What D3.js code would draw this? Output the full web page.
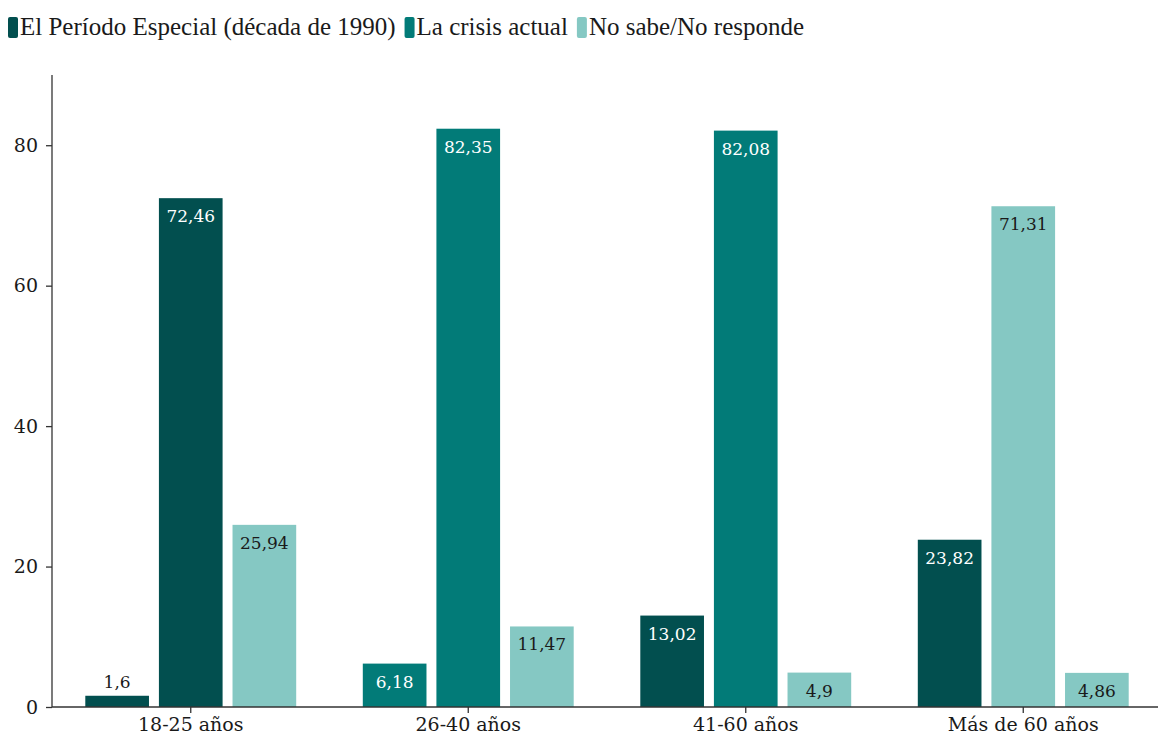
<!DOCTYPE html>
<html>
    <head>
        <meta charset="UTF-8">
        <title>Período Especial vs crisis actual</title>
        <script src="https://d3js.org/d3.v7.min.js"></script>
        <style>
            body { margin:0; background:#fff; }
        </style>
    </head>
    <body>
        <script>
            var groups = ["18-25 años","26-40 años","41-60 años","Más de 60 años"];
            var seriesNames = ["El Período Especial (década de 1990)","La crisis actual","No sabe/No responde"];
            var periodo = [1.6, 6.18, 13.02, 23.82];
            var crisis = [72.46, 82.35, 82.08, 71.31];
            var nosabe = [25.94, 11.47, 4.9, 4.86];
            var yTicks = [0,20,40,60,80];
            // colour index used by each bar in the original (it is not strictly per series)
            var barColorIdx = [[0,0,2],[1,1,2],[0,1,2],[0,2,2]];
            var colors = ["#024f4f","#027b78","#85c8c3"];

            var W = 1158, H = 737;
            var mLeft = 52, mBottom = 707, mTop = 75;

            var svg = d3.select("body").append("svg")
                    .attr("width",W).attr("height",H);

            var x0 = d3.scaleBand().domain(groups).range([mLeft,1162])
                    .paddingInner(0.24).paddingOuter(0.12);
            var x1 = d3.scaleBand().domain([0,1,2]).range([0,x0.bandwidth()])
                    .paddingInner(0.135);
            var y = d3.scaleLinear().domain([0,90]).range([mBottom,mTop]);

            var bars = [];
            groups.forEach(function(g,i){
                [periodo[i],crisis[i],nosabe[i]].forEach(function(v,j){
                    bars.push({g:g, s:j, v:v, c:barColorIdx[i][j]});
                });
            });

            svg.selectAll("rect.bar").data(bars).enter().append("rect")
                    .attr("class","bar")
                    .attr("x",function(d){return x0(d.g)+x1(d.s);})
                    .attr("y",function(d){return y(d.v);})
                    .attr("width",x1.bandwidth())
                    .attr("height",function(d){return mBottom-y(d.v);})
                    .attr("fill",function(d){return colors[d.c];});

            // labels sit inside the bar, except the tiny one which goes above
            svg.selectAll("text.lbl").data(bars).enter().append("text")
                    .attr("class","lbl")
                    .attr("x",function(d){return x0(d.g)+x1(d.s)+x1.bandwidth()/2;})
                    .attr("y",function(d){
                        return (mBottom-y(d.v)) < 20 && d.c==0 ? y(d.v)-8 : y(d.v)+24;
                    })
                    .attr("text-anchor","middle")
                    .attr("font-family","DejaVu Serif")
                    .attr("font-size",17)
                    .attr("fill",function(d){
                        if ((mBottom-y(d.v)) < 20 && d.c==0) return "#1a1a1a";
                        return d.c==2 ? "#1a1a1a" : "#fff";
                    })
                    .text(function(d){return String(d.v).replace(".",",");});

            // axes
            var yAxis = d3.axisLeft(y).tickValues(yTicks).tickSize(6).tickPadding(8);
            var gy = svg.append("g").attr("transform","translate("+mLeft+",0)").call(yAxis);
            gy.select(".domain").attr("d","M0,"+mTop+"V"+mBottom);

            var xAxis = d3.axisBottom(x0).tickSize(6).tickPadding(5);
            var gx = svg.append("g").attr("transform","translate(0,"+mBottom+")").call(xAxis);
            gx.select(".domain").attr("d","M"+mLeft+",0H"+W);

            svg.selectAll(".tick text")
                    .attr("font-family","DejaVu Serif")
                    .attr("font-size",19)
                    .attr("fill","#1a1a1a");
            svg.selectAll(".domain, .tick line").attr("stroke","#333").attr("stroke-width",1.3);

            // legend
            var legend = svg.append("g");
            var lx = 8;
            seriesNames.forEach(function(n,i){
                legend.append("rect").attr("x",lx).attr("y",17).attr("width",10).attr("height",21)
                        .attr("rx",2).attr("fill",colors[i]);
                var t = legend.append("text").attr("x",lx+12).attr("y",35)
                        .attr("font-family","Liberation Serif").attr("font-size",25)
                        .attr("fill","#1a1a1a").text(n);
                lx += 12 + t.node().getComputedTextLength() + 9;
            });
        </script>
    </body>
</html>
